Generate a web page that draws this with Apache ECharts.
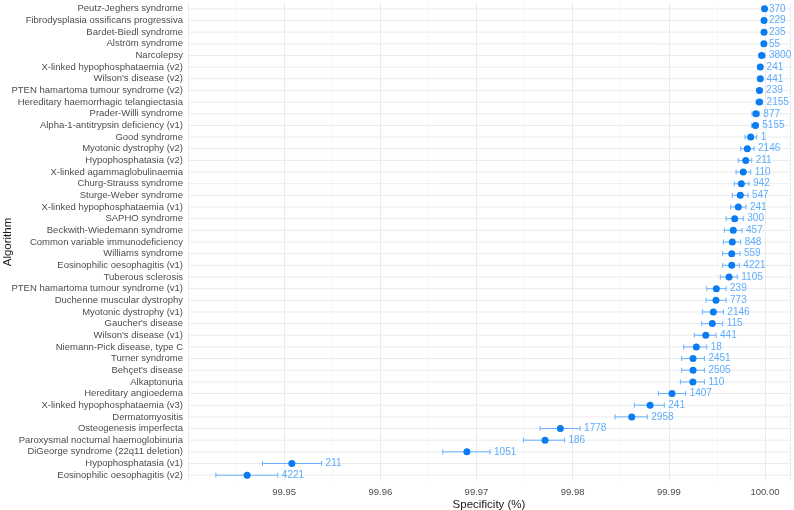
<!DOCTYPE html>
<html lang="en">
<head>
    <meta charset="UTF-8">
    <title>Specificity by algorithm</title>
    <script src="https://cdn.jsdelivr.net/npm/echarts@6/dist/echarts.min.js"></script>
    <style>
        html, body { margin: 0; padding: 0; background: #fff; }
    </style>
</head>
<body>
<div id="mybox" style="height: 510px;width: 794px;"></div>
<script>
    // algorithms, top to bottom
    var algorithms = [
        'Peutz-Jeghers syndrome', 'Fibrodysplasia ossificans progressiva', 'Bardet-Biedl syndrome',
        'Alström syndrome', 'Narcolepsy', 'X-linked hypophosphataemia (v2)', "Wilson's disease (v2)",
        'PTEN hamartoma tumour syndrome (v2)', 'Hereditary haemorrhagic telangiectasia', 'Prader-Willi syndrome',
        'Alpha-1-antitrypsin deficiency (v1)', 'Good syndrome', 'Myotonic dystrophy (v2)', 'Hypophosphatasia (v2)',
        'X-linked agammaglobulinaemia', 'Churg-Strauss syndrome', 'Sturge-Weber syndrome',
        'X-linked hypophosphataemia (v1)', 'SAPHO syndrome', 'Beckwith-Wiedemann syndrome',
        'Common variable immunodeficiency', 'Williams syndrome', 'Eosinophilic oesophagitis (v1)',
        'Tuberous sclerosis', 'PTEN hamartoma tumour syndrome (v1)', 'Duchenne muscular dystrophy',
        'Myotonic dystrophy (v1)', "Gaucher's disease", "Wilson's disease (v1)", 'Niemann-Pick disease, type C',
        'Turner syndrome', "Behçet's disease", 'Alkaptonuria', 'Hereditary angioedema',
        'X-linked hypophosphataemia (v3)', 'Dermatomyositis', 'Osteogenesis imperfecta',
        'Paroxysmal nocturnal haemoglobinuria', 'DiGeorge syndrome (22q11 deletion)', 'Hypophosphatasia (v1)',
        'Eosinophilic oesophagitis (v2)'
    ];
    // point estimate of specificity (%)
    var specificity = [
        99.99995, 99.99990, 99.99990, 99.99988, 99.99966, 99.99951, 99.99951, 99.99942, 99.99942, 99.99906,
        99.99900, 99.99851, 99.99816, 99.99800, 99.99774, 99.99754, 99.99743, 99.99722, 99.99685, 99.99670,
        99.99660, 99.99654, 99.99654, 99.99626, 99.99494, 99.99490, 99.99463, 99.99452, 99.99384, 99.99286,
        99.99252, 99.99252, 99.99250, 99.99033, 99.98805, 99.98614, 99.97872, 99.97713, 99.96900, 99.95080,
        99.94615
    ];
    // confidence interval bounds
    var lower = [
        99.99980, 99.99975, 99.99975, 99.99970, 99.99935, 99.99930, 99.99930, 99.99920, 99.99906, 99.99865,
        99.99862, 99.99792, 99.99747, 99.99722, 99.99699, 99.99681, 99.99660, 99.99643, 99.99595, 99.99577,
        99.99567, 99.99560, 99.99560, 99.99535, 99.99394, 99.99387, 99.99352, 99.99342, 99.99265, 99.99155,
        99.99134, 99.99134, 99.99120, 99.98891, 99.98641, 99.98441, 99.97661, 99.97488, 99.96650, 99.94775,
        99.94290
    ];
    var upper = [
        100.00000, 100.00000, 100.00000, 100.00000, 100.00000, 99.99975, 99.99975, 99.99970, 99.99975, 99.99941,
        99.99930, 99.99914, 99.99886, 99.99862, 99.99851, 99.99834, 99.99823, 99.99802, 99.99774, 99.99761,
        99.99747, 99.99740, 99.99733, 99.99712, 99.99595, 99.99595, 99.99567, 99.99560, 99.99491, 99.99394,
        99.99370, 99.99370, 99.99370, 99.99175, 99.98953, 99.98776, 99.98077, 99.97914, 99.97141, 99.95389,
        99.94934
    ];
    // number shown to the right of each interval
    var counts = [
        370, 229, 235, 55, 3800, 241, 441, 239, 2155, 877, 5155, 1, 2146, 211, 110, 942, 547, 241, 300, 457,
        848, 559, 4221, 1105, 239, 773, 2146, 115, 441, 18, 2451, 2505, 110, 1407, 241, 2958, 1778, 186, 1051,
        211, 4221
    ];
    var xMajor = ['99.95', '99.96', '99.97', '99.98', '99.99', '100.00'];

    var pointData = algorithms.map(function (a, i) { return [specificity[i], a]; });
    var barData = algorithms.map(function (a, i) { return [lower[i], upper[i], a]; });
    var labelData = algorithms.map(function (a, i) { return [upper[i], a, counts[i]]; });
    var gridData = algorithms.map(function (a) { return [a]; });

    var mychart = echarts.init(document.getElementById('mybox'));
    mychart.setOption({
        animation: false,
        grid: { left: 188, right: 4, top: 3, bottom: 29, containLabel: false, outerBoundsMode: 'none' },
        xAxis: {
            type: 'value',
            min: 99.94,
            max: 100.0026,
            interval: 0.01,
            name: 'Specificity (%)',
            nameLocation: 'middle',
            nameGap: 18,
            nameMoveOverlap: false,
            nameTextStyle: { color: '#1a1a1a', fontSize: 11.5, fontFamily: 'Liberation Sans' },
            axisLine: { show: false },
            axisTick: { show: false },
            axisLabel: {
                color: '#4d4d4d', fontSize: 9.5, fontFamily: 'Liberation Sans', margin: 6,
                formatter: function (v) {
                    var s = v.toFixed(2);
                    return xMajor.indexOf(s) >= 0 && Math.abs(v - parseFloat(s)) < 1e-7 ? s : '';
                }
            },
            splitLine: { show: true, lineStyle: { color: '#ebebeb', width: 1 } },
            minorTick: { show: false, splitNumber: 2 },
            minorSplitLine: { show: true, lineStyle: { color: '#f4f4f4', width: 0.6 } }
        },
        yAxis: {
            type: 'category',
            inverse: true,
            data: algorithms,
            name: 'Algorithm',
            nameLocation: 'middle',
            nameRotate: 90,
            nameGap: 174,
            nameMoveOverlap: false,
            nameTextStyle: { color: '#1a1a1a', fontSize: 11.5, fontFamily: 'Liberation Sans' },
            axisLine: { show: false },
            axisTick: { show: false },
            axisLabel: { interval: 0, color: '#4d4d4d', fontSize: 9.5, fontFamily: 'Liberation Sans', margin: 5 },
            splitLine: { show: false }
        },
        series: [
            {
                // horizontal gridlines at category centres
                type: 'custom',
                silent: true,
                z: 0,
                data: gridData,
                encode: { y: 0 },
                renderItem: function (params, api) {
                    var cs = params.coordSys;
                    var y = api.coord([99.97, api.value(0)])[1];
                    return {
                        type: 'line',
                        shape: { x1: cs.x, y1: y, x2: cs.x + cs.width, y2: y },
                        style: { stroke: '#ebebeb', lineWidth: 1 }
                    };
                }
            },
            {
                name: 'interval',
                type: 'custom',
                z: 2,
                data: barData,
                encode: { x: [0, 1], y: 2 },
                renderItem: function (params, api) {
                    var p1 = api.coord([api.value(0), api.value(2)]);
                    var p2 = api.coord([api.value(1), api.value(2)]);
                    var h = 2.5;
                    var st = { stroke: '#66b2ff', lineWidth: 1 };
                    return {
                        type: 'group',
                        children: [
                            { type: 'line', shape: { x1: p1[0], y1: p1[1], x2: p2[0], y2: p2[1] }, style: st },
                            { type: 'line', shape: { x1: p1[0], y1: p1[1] - h, x2: p1[0], y2: p1[1] + h }, style: st },
                            { type: 'line', shape: { x1: p2[0], y1: p2[1] - h, x2: p2[0], y2: p2[1] + h }, style: st }
                        ]
                    };
                }
            },
            {
                name: 'specificity',
                type: 'scatter',
                z: 3,
                symbolSize: 7,
                itemStyle: { color: '#0a7cf0', opacity: 1 },
                data: pointData
            },
            {
                name: 'count',
                type: 'scatter',
                z: 3,
                symbolSize: 0,
                silent: true,
                data: labelData,
                label: {
                    show: true,
                    position: 'right',
                    distance: 4,
                    color: '#3399ff',
                    fontSize: 10,
                    fontFamily: 'Liberation Sans',
                    formatter: function (p) { return p.value[2]; }
                }
            }
        ]
    });
</script>
</body>
</html>
